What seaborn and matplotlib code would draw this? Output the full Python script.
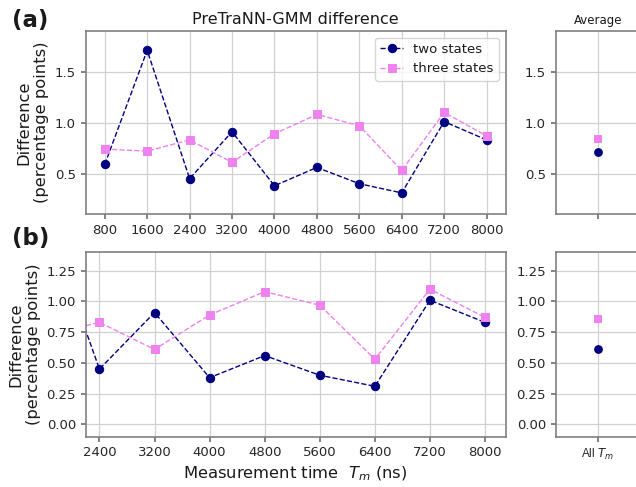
import numpy as np
import matplotlib
matplotlib.use("Agg")
import matplotlib.pyplot as plt
import seaborn as sns

# data
times = [800, 1600, 2400, 3200, 4000, 4800, 5600, 6400, 7200, 8000]
two_states = [0.59, 1.71, 0.45, 0.91, 0.38, 0.56, 0.40, 0.31, 1.01, 0.83]
three_states = [0.74, 0.72, 0.83, 0.61, 0.89, 1.08, 0.97, 0.53, 1.10, 0.87]

# averages shown in the side panels (a: all times, b: 2400 ns and up)
avg_a = [0.715, 0.835]
avg_b = [0.61, 0.86]

ticks_a = [800, 1600, 2400, 3200, 4000, 4800, 5600, 6400, 7200, 8000]
ticks_b = [2400, 3200, 4000, 4800, 5600, 6400, 7200, 8000]
yticks_a = [0.5, 1.0, 1.5]
yticks_b = [0.0, 0.25, 0.5, 0.75, 1.0, 1.25]

c_two = "navy"
c_three = "violet"

sns.set_theme(style="whitegrid", rc={
    "axes.edgecolor": "0.5",
    "axes.linewidth": 1.2,
    "grid.color": "0.82",
    "grid.linewidth": 0.9,
    "xtick.bottom": True,
    "ytick.left": True,
    "xtick.color": "0.45",
    "ytick.color": "0.45",
    "xtick.labelcolor": "0.15",
    "ytick.labelcolor": "0.15",
    "xtick.major.size": 3.5,
    "ytick.major.size": 3.5,
    "xtick.labelsize": 9.5,
    "ytick.labelsize": 9.5,
    "text.color": "0.1",
    "axes.labelcolor": "0.1",
})
plt.rcParams["font.family"] = ["DejaVu Sans"]

fig = plt.figure(figsize=(6.36, 4.87), dpi=100)
ax_a = fig.add_axes([0.1347, 0.560, 0.6604, 0.3764])
ax_a_avg = fig.add_axes([0.8737, 0.560, 0.1321, 0.3764])
ax_b = fig.add_axes([0.1347, 0.1033, 0.6604, 0.3786])
ax_b_avg = fig.add_axes([0.8737, 0.1033, 0.1321, 0.3786])


def draw_main(ax):
    sns.lineplot(x=times, y=two_states, ax=ax, color=c_two, marker="o",
                 markersize=6, markeredgecolor=c_two, linestyle="--",
                 linewidth=1, label="two states")
    sns.lineplot(x=times, y=three_states, ax=ax, color=c_three, marker="s",
                 markersize=6, markeredgecolor=c_three, linestyle="--",
                 linewidth=1, label="three states")


def draw_avg(ax, vals):
    sns.scatterplot(x=[0], y=[vals[0]], ax=ax, color=c_two, marker="o",
                    s=40, edgecolor=c_two, linewidth=0)
    sns.scatterplot(x=[0], y=[vals[1]], ax=ax, color=c_three, marker="s",
                    s=40, edgecolor=c_three, linewidth=0)
    ax.set_xlim(-1, 1)
    ax.set_xticks([0])


# (a)
draw_main(ax_a)
ax_a.set_xlim(440, 8360)
ax_a.set_ylim(0.1, 1.9)
ax_a.set_xticks(ticks_a)
ax_a.set_yticks(yticks_a)
ax_a.set_title("PreTraNN-GMM difference", fontsize=11.5, pad=5)
ax_a.set_ylabel("Difference\n(percentage points)", fontsize=11.8)
ax_a.set_xlabel("")
ax_a.legend(loc="upper right", fontsize=9.5, framealpha=0.8, handlelength=1.7)

draw_avg(ax_a_avg, avg_a)
ax_a_avg.set_ylim(0.1, 1.9)
ax_a_avg.set_yticks(yticks_a)
ax_a_avg.set_xticklabels([""])
ax_a_avg.set_title("Average", fontsize=8.5, pad=5)

# (b)
draw_main(ax_b)
if ax_b.get_legend() is not None:
    ax_b.get_legend().remove()
ax_b.set_xlim(2200, 8300)
ax_b.set_ylim(-0.1, 1.4)
ax_b.set_xticks(ticks_b)
ax_b.set_yticks(yticks_b)
ax_b.set_ylabel("Difference\n(percentage points)", fontsize=11.8)
ax_b.set_xlabel("Measurement time  $T_m$ (ns)", fontsize=11.8)

draw_avg(ax_b_avg, avg_b)
ax_b_avg.set_ylim(-0.1, 1.4)
ax_b_avg.set_yticks(yticks_b)
ax_b_avg.set_xticklabels(["All $T_m$"], fontsize=8.5, family=["Liberation Sans", "DejaVu Sans"])

fig.text(0.019, 0.957, "(a)", fontsize=16.5, fontweight="bold", va="center", ha="left")
fig.text(0.019, 0.510, "(b)", fontsize=16.5, fontweight="bold", va="center", ha="left")

fig.savefig("out.png", dpi=100)
